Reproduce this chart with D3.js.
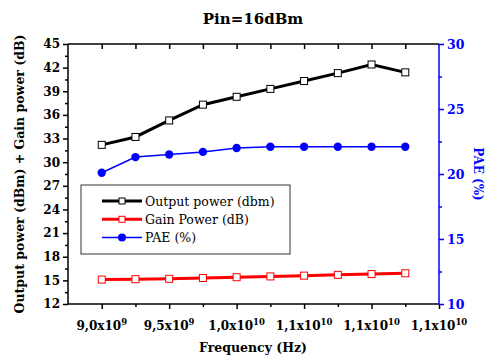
<!DOCTYPE html>
<html>
<head>
<meta charset="utf-8">
<script src="https://cdn.jsdelivr.net/npm/d3@7"></script>
<style>
  body { margin: 0; background: #fff; }
  svg text { font-family: 'DejaVu Serif', serif; }
</style>
</head>
<body>
<div id="chart"></div>
<script>
// data
var freq = [9.0e9, 9.25e9, 9.5e9, 9.75e9, 10.0e9, 10.25e9, 10.5e9, 10.75e9, 11.0e9, 11.25e9];
var outputPower = [32.2, 33.2, 35.3, 37.3, 38.3, 39.3, 40.3, 41.3, 42.4, 41.4];
var gainPower = [15.1, 15.15, 15.2, 15.3, 15.4, 15.5, 15.6, 15.7, 15.8, 15.9];
var pae = [20.1, 21.3, 21.5, 21.7, 22.0, 22.1, 22.1, 22.1, 22.1, 22.1];
var xTickValues = [9.0e9, 9.5e9, 10.0e9, 10.5e9, 11.0e9, 11.5e9];
var xTickMant = ['9,0', '9,5', '1,0', '1,1', '1,1', '1,1'];
var xTickExp = ['9', '9', '10', '10', '10', '10'];
var leftTicks = [12, 15, 18, 21, 24, 27, 30, 33, 36, 39, 42, 45];
var rightTicks = [10, 15, 20, 25, 30];

var width = 485, height = 356;
var m = {left: 68, right: 46, top: 44, bottom: 52};

var svg = d3.select('#chart').append('svg')
  .attr('width', width).attr('height', height);

var x = d3.scaleLinear().domain([8.75e9, 11.5e9]).range([m.left, width - m.right]);
var y = d3.scaleLinear().domain([12, 45]).range([height - m.bottom, m.top]);
var y2 = d3.scaleLinear().domain([10, 30]).range([height - m.bottom, m.top]);

var x0 = m.left, x1 = width - m.right, yb = height - m.bottom, yt = m.top;

// bottom axis
var minorX = d3.range(9.25e9, 11.5e9, 0.5e9);
var gx = svg.append('g').attr('transform', 'translate(0,' + yb + ')');
gx.call(d3.axisBottom(x).tickValues(xTickValues).tickSize(5).tickFormat(''));
gx.append('g').call(d3.axisBottom(x).tickValues(minorX).tickSize(3).tickFormat(''));
gx.selectAll('.domain').remove();
gx.selectAll('line').attr('stroke', '#000').attr('stroke-width', 1.5);
xTickValues.forEach(function(v, i){
  var t = gx.append('text')
    .attr('x', x(v)).attr('y', 26)
    .attr('text-anchor', 'middle')
    .attr('font-size', '12px').attr('font-weight', 'bold').attr('fill', '#000');
  t.append('tspan').text(xTickMant[i] + 'x10');
  t.append('tspan').attr('dy', -5).attr('font-size', '8.5px').text(xTickExp[i]);
});

// top axis, ticks inward
var gt = svg.append('g').attr('transform', 'translate(0,' + yt + ')');
gt.call(d3.axisBottom(x).tickValues(freq).tickSize(5).tickFormat(''));
gt.selectAll('.domain').remove();
gt.selectAll('line').attr('stroke', '#000').attr('stroke-width', 1.5);

// left axis
var gy = svg.append('g').attr('transform', 'translate(' + x0 + ',0)');
gy.call(d3.axisLeft(y).tickValues(leftTicks).tickSize(5).tickPadding(3).tickFormat(d3.format('d')));
gy.append('g').call(d3.axisLeft(y).tickValues(d3.range(13.5, 45, 3)).tickSize(3).tickFormat(''));
gy.selectAll('.domain').remove();
gy.selectAll('line').attr('stroke', '#000').attr('stroke-width', 1.5);
gy.selectAll('text').attr('font-size', '12px').attr('font-weight', 'bold')
  .attr('font-family', 'DejaVu Serif').attr('fill', '#000');

// right axis (blue)
var gr = svg.append('g').attr('transform', 'translate(' + x1 + ',0)');
gr.call(d3.axisRight(y2).tickValues(rightTicks).tickSize(5).tickPadding(3).tickFormat(d3.format('d')));
gr.append('g').call(d3.axisRight(y2).tickValues([12.5, 17.5, 22.5, 27.5]).tickSize(3).tickFormat(''));
gr.selectAll('.domain').remove();
gr.selectAll('line').attr('stroke', '#00f').attr('stroke-width', 1.5);
gr.selectAll('text').attr('font-size', '12.5px').attr('font-weight', 'bold')
  .attr('font-family', 'DejaVu Serif').attr('fill', '#00f');

// frame
svg.append('line').attr('x1', x0).attr('x2', x1).attr('y1', yt).attr('y2', yt)
   .attr('stroke', '#000').attr('stroke-width', 1.5);
svg.append('line').attr('x1', x0).attr('x2', x1).attr('y1', yb).attr('y2', yb)
   .attr('stroke', '#000').attr('stroke-width', 1.5);
svg.append('line').attr('x1', x0).attr('x2', x0).attr('y1', yt).attr('y2', yb)
   .attr('stroke', '#000').attr('stroke-width', 1.5);
svg.append('line').attr('x1', x1).attr('x2', x1).attr('y1', yt).attr('y2', yb)
   .attr('stroke', '#00f').attr('stroke-width', 1.5);

// series
var series = [
  {name: 'Output power (dbm)', vals: outputPower, scale: y, color: '#000', lw: 3, marker: 'square'},
  {name: 'Gain Power (dB)', vals: gainPower, scale: y, color: '#f00', lw: 3, marker: 'square'},
  {name: 'PAE (%)', vals: pae, scale: y2, color: '#00f', lw: 1.5, marker: 'circle'}
];

series.forEach(function(s){
  var line = d3.line().x(function(d, i){ return x(freq[i]); })
                      .y(function(d){ return s.scale(d); });
  svg.append('path').datum(s.vals)
     .attr('d', line).attr('fill', 'none')
     .attr('stroke', s.color).attr('stroke-width', s.lw);
  if (s.marker === 'square') {
    svg.selectAll(null).data(s.vals).enter().append('rect')
       .attr('x', function(d, i){ return x(freq[i]) - 3.5; })
       .attr('y', function(d){ return s.scale(d) - 3.5; })
       .attr('width', 7).attr('height', 7)
       .attr('fill', '#fff').attr('stroke', s.color).attr('stroke-width', 1);
  } else {
    svg.selectAll(null).data(s.vals).enter().append('circle')
       .attr('cx', function(d, i){ return x(freq[i]); })
       .attr('cy', function(d){ return s.scale(d); })
       .attr('r', 4.2).attr('fill', s.color);
  }
});

// legend
var lg = svg.append('g').attr('transform', 'translate(81,185)');
lg.append('rect').attr('width', 209).attr('height', 69)
  .attr('fill', '#fff').attr('stroke', '#333').attr('stroke-width', 1);
series.forEach(function(s, i){
  var ly = 16 + i * 18.3;
  lg.append('line').attr('x1', 21).attr('x2', 61).attr('y1', ly).attr('y2', ly)
    .attr('stroke', s.color).attr('stroke-width', s.lw);
  if (s.marker === 'square') {
    lg.append('rect').attr('x', 41 - 3).attr('y', ly - 3).attr('width', 6).attr('height', 6)
      .attr('fill', '#fff').attr('stroke', s.color).attr('stroke-width', 1);
  } else {
    lg.append('circle').attr('cx', 41).attr('cy', ly).attr('r', 4).attr('fill', s.color);
  }
  lg.append('text').attr('x', 64).attr('y', ly + 4.5)
    .text(s.name).attr('font-size', '12.5px').attr('fill', '#000');
});

// titles
svg.append('text').attr('x', 253).attr('y', 24).attr('text-anchor', 'middle')
   .text('Pin=16dBm').attr('font-size', '15px').attr('font-weight', 'bold');
svg.append('text').attr('x', 253).attr('y', 352).attr('text-anchor', 'middle')
   .text('Frequency (Hz)').attr('font-size', '12.5px').attr('font-weight', 'bold');
svg.append('text')
   .attr('transform', 'translate(24,' + ((yt + yb) / 2) + ') rotate(-90)')
   .attr('text-anchor', 'middle')
   .text('Output power (dBm) + Gain power (dB)')
   .attr('font-size', '12.5px').attr('font-weight', 'bold');
svg.append('text')
   .attr('transform', 'translate(474,' + ((yt + yb) / 2) + ') rotate(90)')
   .attr('text-anchor', 'middle')
   .text('PAE (%)').attr('font-size', '12px').attr('font-weight', 'bold').attr('fill', '#00f');
</script>
</body>
</html>
